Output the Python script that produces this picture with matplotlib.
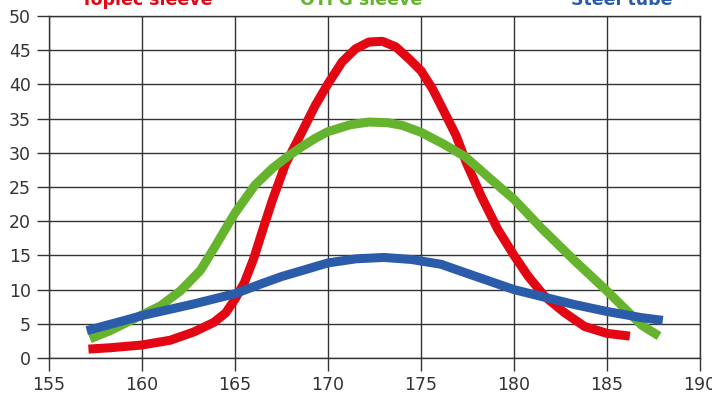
import matplotlib
matplotlib.use("Agg")
from matplotlib import pyplot as plt

# values
red_x = [157.12, 158.29, 160, 161.52, 162.78, 163.86, 164.5, 165, 165.5, 166.0, 166.5, 167.0,
         167.72, 168.59, 169.31, 170, 170.76, 171.48, 172.2, 172.92, 173.64, 174.37, 175,
         175.63, 176.17, 176.89, 177.43, 178.23, 179.13, 180, 180.75, 181.65, 182.73, 183.8,
         185, 186.23]
red_y = [1.3, 1.5, 1.9, 2.6, 3.8, 5.2, 6.6, 8.6, 11.0, 14.5, 18.8, 23.0,
         28.4, 33.0, 36.9, 40.1, 43.3, 45.2, 46.2, 46.3, 45.5, 43.7, 42.0,
         39.3, 36.4, 32.5, 28.6, 23.7, 18.8, 15.0, 12.0, 9.0, 6.6, 4.6,
         3.6, 3.2]

green_x = [157.2, 158.29, 160, 160.98, 162.06, 163.14, 163.86, 165, 166.08, 167.0, 167.8,
           168.6, 169.3, 170, 171.2, 172.2, 173.2, 174, 175, 176.2, 177.39, 178.77, 180,
           181.47, 183.27, 185, 186.86, 187.8]
green_y = [2.8, 4.0, 6.3, 7.6, 9.8, 12.8, 16.0, 21.2, 25.3, 27.7, 29.4,
           30.9, 32.1, 33.1, 34.1, 34.5, 34.4, 34.0, 33.0, 31.3, 29.4, 26.1, 23.2,
           19.0, 14.2, 9.8, 4.8, 3.2]

blue_x = [157.03, 158.8, 160, 162.78, 165, 166.37, 167.5, 170, 171.5, 173, 174.5, 176.08,
          177.87, 180, 181.47, 183.27, 185, 186.86, 188]
blue_y = [4.0, 5.3, 6.2, 7.9, 9.4, 10.8, 11.9, 13.9, 14.5, 14.7, 14.4, 13.7,
          12.0, 10.0, 9.0, 7.8, 6.8, 5.9, 5.5]

series = [
    ("Topiec sleeve", red_x, red_y, "#e30613"),
    ("OTFG sleeve", green_x, green_y, "#66b32e"),
    ("Steel tube", blue_x, blue_y, "#2a5caa"),
]
label_pos = [147, 361, 622]   # label centres in pixels

W, H = 712, 396
fig = plt.figure(figsize=(W / 100, H / 100), dpi=100)
ax = fig.add_axes([49 / W, 38 / H, 651 / W, 342 / H])

for name, xs, ys, col in series:
    ax.plot(xs, ys, color=col, lw=6.5, solid_joinstyle="round", solid_capstyle="butt",
            clip_on=False, zorder=3)

ax.set_xlim(155, 190)
ax.set_ylim(0, 50)
ax.set_xticks(range(155, 191, 5))
ax.set_yticks(range(0, 51, 5))
ax.grid(True, color="#333333", lw=1.0)
for s in ax.spines.values():
    s.set_color("#333333")
    s.set_linewidth(1.0)
ax.tick_params(length=9, width=1.0, color="#333333", labelsize=12.5, labelcolor="#333333", pad=4)

# series names, partly cut off by the top edge as in the source
for (name, xs, ys, col), cx in zip(series, label_pos):
    fig.text(cx / W, 1 - 5 / H, name, color=col, fontsize=12.5, fontweight="bold",
             ha="center", va="baseline")

fig.savefig("out.png", dpi=100)
